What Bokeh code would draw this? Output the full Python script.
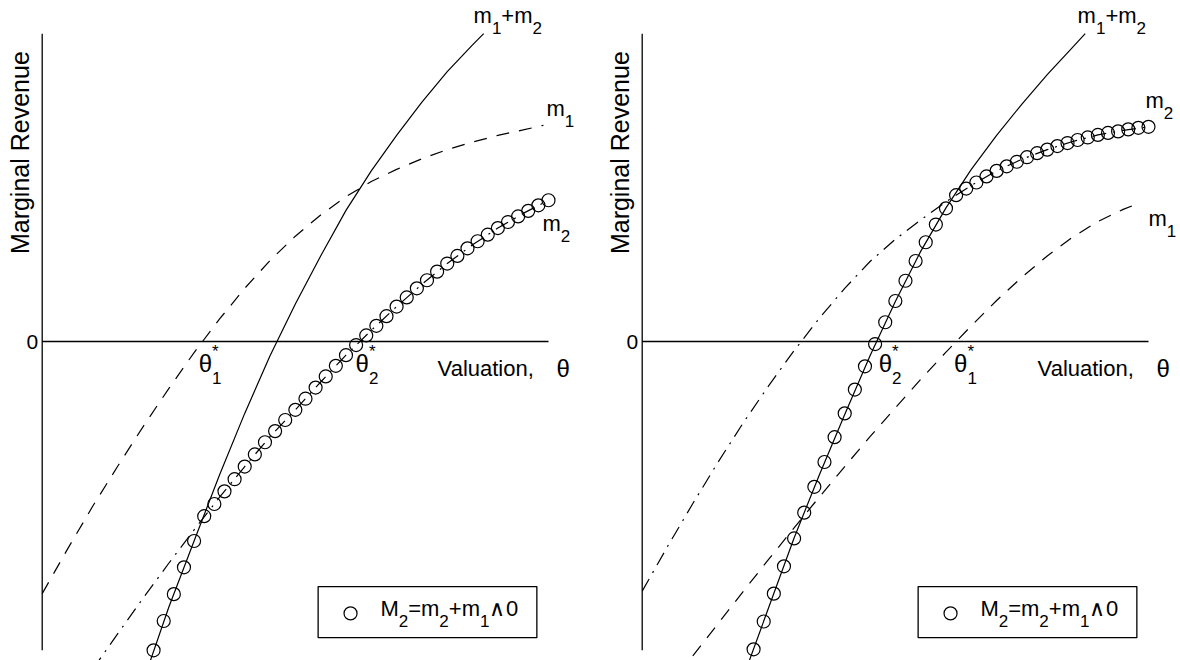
from bokeh.plotting import figure
from bokeh.models import Range1d, BoxAnnotation
from bokeh.layouts import row
from bokeh.core.properties import value
from bokeh.embed import file_html
from bokeh.resources import INLINE

FONT = "Liberation Sans"

# ---------------- data ----------------
# circle series M2 is sampled on this valuation grid (both panels)
M2C_X = [2.2, 2.4, 2.6, 2.8, 3.0, 3.2, 3.4, 3.6, 3.8, 4.0,
         4.2, 4.4, 4.6, 4.8, 5.0, 5.2, 5.4, 5.6, 5.8, 6.0,
         6.2, 6.4, 6.6, 6.8, 7.0, 7.2, 7.4, 7.6, 7.8, 8.0,
         8.2, 8.4, 8.6, 8.8, 9.0, 9.2, 9.4, 9.6, 9.8, 10.0]

# left panel
L_M1_X = [0.0, 0.5, 1.0, 1.5, 2.0, 2.5, 3.0, 3.5, 4.0, 4.5, 5.0, 5.5, 6.0, 6.5, 7.0, 7.5, 8.0, 8.5, 9.0, 9.5, 9.9]
L_M1_Y = [-4.98, -4.10, -3.25, -2.45, -1.67, -0.93, -0.22, 0.44, 1.05, 1.60, 2.08, 2.50, 2.86, 3.16, 3.40, 3.61, 3.79, 3.94, 4.07, 4.18, 4.27]
L_M2_X = [1.0, 1.5, 2.0, 2.5, 3.0, 3.5, 4.0, 4.5, 5.0, 5.5, 6.0, 6.5, 7.0, 7.5, 8.0, 8.5, 9.0, 9.5, 10.0]
L_M2_Y = [-6.47, -5.76, -5.06, -4.38, -3.72, -3.08, -2.47, -1.88, -1.35, -0.80, -0.27, 0.22, 0.69, 1.13, 1.54, 1.91, 2.24, 2.53, 2.79]
L_SUM_X = [2.0, 2.5, 3.0, 3.5, 4.0, 4.5, 5.0, 5.5, 6.0, 6.5, 7.0, 7.5, 8.0, 8.5, 8.72]
L_SUM_Y = [-6.70, -5.25, -3.94, -2.64, -1.42, -0.28, 0.74, 1.69, 2.59, 3.37, 4.07, 4.73, 5.33, 5.86, 6.08]
L_M2C_Y = [-6.10, -5.52, -4.99, -4.46, -3.94, -3.45, -3.21, -2.96, -2.72, -2.47,
           -2.23, -1.99, -1.77, -1.55, -1.35, -1.13, -0.91, -0.69, -0.48, -0.27,
           -0.07, 0.12, 0.31, 0.50, 0.69, 0.87, 1.05, 1.21, 1.38, 1.54,
           1.69, 1.84, 1.98, 2.11, 2.24, 2.36, 2.47, 2.58, 2.69, 2.79]

# right panel
R_M1_X = [1.0, 1.5, 2.0, 2.5, 3.0, 3.5, 4.0, 4.5, 5.0, 5.5, 6.0, 6.5, 7.0, 7.5, 8.0, 8.5, 9.0, 9.5, 9.84]
R_M1_Y = [-6.21, -5.57, -4.93, -4.30, -3.68, -3.07, -2.47, -1.88, -1.31, -0.75, -0.21, 0.31, 0.81, 1.27, 1.69, 2.06, 2.37, 2.61, 2.74]
R_M2_X = [0.0, 0.5, 1.0, 1.5, 2.0, 2.5, 3.0, 3.5, 4.0, 4.5, 5.0, 5.5, 6.0, 6.5, 7.0, 7.5, 8.0, 8.5, 9.0, 9.5, 10.0]
R_M2_Y = [-4.93, -4.05, -3.20, -2.38, -1.60, -0.87, -0.18, 0.46, 1.05, 1.58, 2.02, 2.40, 2.76, 3.08, 3.37, 3.60, 3.79, 3.95, 4.08, 4.17, 4.24]
R_SUM_X = [2.0, 2.5, 3.0, 3.5, 4.0, 4.5, 5.0, 5.5, 6.0, 6.5, 7.0, 7.5, 8.0, 8.5, 8.75]
R_SUM_Y = [-6.62, -5.25, -3.88, -2.63, -1.44, -0.28, 0.79, 1.78, 2.64, 3.40, 4.07, 4.69, 5.27, 5.81, 6.08]
R_M2C_Y = [-6.08, -5.53, -4.98, -4.44, -3.89, -3.38, -2.87, -2.38, -1.89, -1.42,
           -0.95, -0.49, -0.05, 0.38, 0.80, 1.20, 1.59, 1.96, 2.31, 2.63,
           2.89, 3.02, 3.14, 3.26, 3.37, 3.46, 3.55, 3.64, 3.72, 3.79,
           3.86, 3.92, 3.98, 4.03, 4.08, 4.12, 4.15, 4.19, 4.22, 4.24]

Y_TICKS = [0]
Y_TICK_LABELS = ["0"]
Y_LABEL = "Marginal Revenue"
X_LABEL = "Valuation,"
LEGEND_PIECES = [("M", "n"), ("2", "sub"), ("=m", "n"), ("2", "sub"),
                 ("+m", "n"), ("1", "sub"), ("\u2227", "n"), ("0", "n")]

# ---------------- layout constants ----------------
PX = 50.63            # pixels per data unit (both axes)
H = 660
AX_LEFT_PX = 41.7     # pixel position of the vertical axis inside each figure
ZERO_PX = 341.0       # pixel row of y = 0
AX_Y_MIN, AX_Y_MAX = -6.10, 6.08
AX_X_MAX = 10.0
FS, SFS, TFS, YFS = 22, 17, 24, 25
BASE_FIX = 0.33       # baseline correction (fraction of font size)

W = {'M': 0.833, 'm': 0.833, '=': 0.584, '+': 0.584, '0': 0.556, '1': 0.556, '2': 0.556,
     '\u03b8': 0.556, '*': 0.389, '\u2227': 0.75}


def tw(s, fs):
    return sum(W.get(c, 0.556) for c in s) * fs


def txt(p, x, y, s, fs, xo=0, yo=0, align="left", baseline="alphabetic", angle=0.0):
    if baseline == "alphabetic":
        if angle:
            xo -= BASE_FIX * fs
        else:
            yo -= BASE_FIX * fs
    p.text(x=[x], y=[y], text=[s], x_offset=xo, y_offset=yo, angle=angle,
           text_font=value(FONT), text_font_size=value(f"{fs}px"),
           text_color="black", text_align=align, text_baseline=baseline)


def rich(p, x, y, pieces):
    off = 0.0
    for s, kind in pieces:
        if kind == "n":
            fs = TFS if s == "\u03b8" else FS
            txt(p, x, y, s, fs, off, 0)
            off += tw(s, fs)
        elif kind == "sub":
            txt(p, x, y, s, SFS, off, 11)
            off += tw(s, SFS)
        elif kind == "subsup":
            txt(p, x, y, s, SFS, off, 12)
            txt(p, x, y, "*", SFS, off, -15)
            off += tw(s, SFS)


def panel(width, m1x, m1y, m2x, m2y, sx, sy, cy, labels, thetas):
    p = figure(width=width, height=H, output_backend="svg", toolbar_location=None,
               x_range=Range1d(-AX_LEFT_PX / PX, (width - AX_LEFT_PX) / PX),
               y_range=Range1d((ZERO_PX - H) / PX, ZERO_PX / PX),
               x_axis_location=None, y_axis_location=None, min_border=0,
               min_border_left=0, min_border_right=0,
               min_border_top=0, min_border_bottom=0)
    p.grid.visible = False
    p.outline_line_color = None
    p.background_fill_color = "white"

    # axis lines
    p.line([0, 0], [AX_Y_MIN, AX_Y_MAX], line_color="black", line_width=1.3)
    p.line([0, AX_X_MAX], [0, 0], line_color="black", line_width=1.3)
    for t, lab in zip(Y_TICKS, Y_TICK_LABELS):
        txt(p, 0, t, lab, 21, -4, 0, align="right", baseline="middle")

    # curves
    p.line(m1x, m1y, line_color="black", line_width=1.2, line_dash="13 10")
    p.line(m2x, m2y, line_color="black", line_width=1.2, line_dash="14 7 2 7")
    p.line(sx, sy, line_color="black", line_width=1.2)
    p.scatter(M2C_X, cy, marker="circle", size=13, fill_color=None,
              line_color="black", line_width=1.2)

    # axis titles
    txt(p, -0.27, 3.73, Y_LABEL, YFS, 0, 0, align="center", angle=1.5707963)
    txt(p, 7.81, -0.67, X_LABEL, FS)
    txt(p, 7.81, -0.67, "\u03b8", TFS, 119, 1)

    for (x, y, pieces) in labels:
        rich(p, x, y, pieces)
    for (x, sub) in thetas:
        rich(p, x, -0.60, [("\u03b8", "n"), (sub, "subsup")])

    # legend
    p.add_layout(BoxAnnotation(left=5.45, right=9.77, top=-4.84, bottom=-5.85,
                               fill_alpha=0, line_color="black", line_width=1.3,
                               line_alpha=1))
    p.scatter([6.09], [-5.37], marker="circle", size=13, fill_color=None,
              line_color="black", line_width=1.2)
    rich(p, 6.68, -5.41, LEGEND_PIECES)
    return p


left = panel(600, L_M1_X, L_M1_Y, L_M2_X, L_M2_Y, L_SUM_X, L_SUM_Y, L_M2C_Y,
             [(8.52, 6.30, [("m", "n"), ("1", "sub"), ("+m", "n"), ("2", "sub")]),
              (9.96, 4.46, [("m", "n"), ("1", "sub")]),
              (9.88, 2.19, [("m", "n"), ("2", "sub")])],
             [(3.09, "1"), (6.19, "2")])

right = panel(580, R_M1_X, R_M1_Y, R_M2_X, R_M2_Y, R_SUM_X, R_SUM_Y, R_M2C_Y,
              [(8.60, 6.30, [("m", "n"), ("1", "sub"), ("+m", "n"), ("2", "sub")]),
               (9.94, 4.62, [("m", "n"), ("2", "sub")]),
               (10.0, 2.29, [("m", "n"), ("1", "sub")])],
              [(4.67, "2"), (6.16, "1")])

layout = row(left, right, spacing=0)
open("out.html", "w").write(file_html(layout, INLINE))
